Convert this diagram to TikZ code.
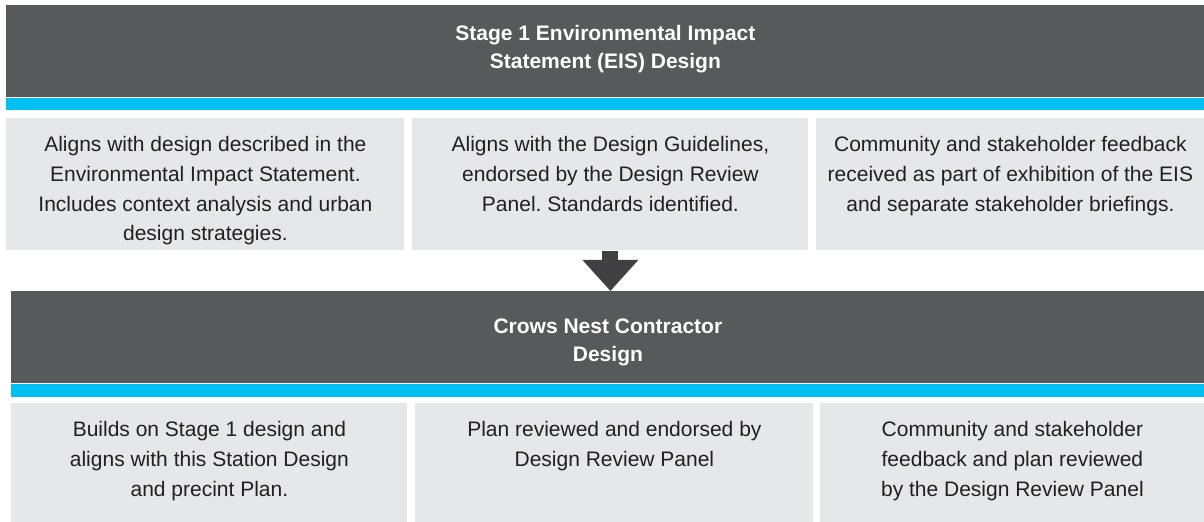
\documentclass[tikz,border=0pt]{standalone}
\usepackage{fontspec}
\setmainfont{Liberation Sans}
\usetikzlibrary{arrows.meta}
\definecolor{headgrey}{HTML}{58595B}
\definecolor{bandblue}{HTML}{00BFF3}
\definecolor{cellgrey}{HTML}{E6E7E8}
\definecolor{arrowgrey}{HTML}{414042}
\definecolor{textblack}{HTML}{231F20}
\frenchspacing
\begin{document}
\begin{tikzpicture}[
        x=0.5pt, y=-0.5pt, % one unit = one pixel of the page
        header/.style={fill=headgrey, anchor=north west, inner sep=0pt, minimum height=46pt},
        headtext/.style={text=white, font=\bfseries\fontsize{10.5}{14}\selectfont, align=center, inner sep=0pt},
        band/.style={fill=bandblue},
        cell/.style={fill=cellgrey, anchor=north west, inner sep=0pt},
        celltext/.style={anchor=north, align=center, inner sep=0pt, text=textblack, font=\fontsize{10.5}{14.85}\selectfont},
        flow/.style={draw=arrowgrey, line width=8pt, -{Triangle[width=27pt,length=15.5pt]}}
    ]
    \useasboundingbox (0,0) rectangle (1204,522);
    % stage 1 block
    \node[header, minimum width=599pt] (hd1) at (6,5) {};
    \node[headtext] (t1) at ([yshift=1pt]hd1.center) {Stage 1 Environmental Impact\\Statement (EIS) Design};
    \fill[band] (hd1.south west) rectangle ([yshift=-6pt]hd1.south east);
    \node[cell, minimum width=199pt, minimum height=66pt] (b1) at (6,118) {};
    \node[cell, minimum width=198pt, minimum height=66pt] (b2) at (412,118) {};
    \node[cell, minimum width=194pt, minimum height=66pt] (b3) at (816,118) {};
    \node[celltext] at ([yshift=-9pt]b1.north) {Aligns with design described in the\\Environmental Impact Statement.\\Includes context analysis and urban\\design strategies.};
    \node[celltext] at ([yshift=-9pt]b2.north) {Aligns with the Design Guidelines,\\endorsed by the Design Review\\Panel. Standards identified.};
    \node[celltext] at ([yshift=-9pt]b3.north) {Community and stakeholder feedback\\received as part of exhibition of the EIS\\and separate stakeholder briefings.};
    % contractor block
    \node[header, minimum width=596.5pt] (hd2) at (11,291) {};
    \node[headtext] (t2) at ([yshift=-2.5pt]hd2.center) {Crows Nest Contractor\\Design};
    \fill[band] (hd2.south west) rectangle ([yshift=-6.5pt]hd2.south east);
    \node[cell, minimum width=198pt, minimum height=59.5pt] (c1) at (11,403) {};
    \node[cell, minimum width=199pt, minimum height=59.5pt] (c2) at (415,403) {};
    \node[cell, minimum width=192pt, minimum height=59.5pt] (c3) at (820,403) {};
    \node[celltext] at ([yshift=-9pt]c1.north) {Builds on Stage 1 design and\\aligns with this Station Design\\and precint Plan.};
    \node[celltext] at ([yshift=-9pt]c2.north) {Plan reviewed and endorsed by\\Design Review Panel};
    \node[celltext] at ([yshift=-9pt]c3.north) {Community and stakeholder\\feedback and plan reviewed\\by the Design Review Panel};
    \draw[flow] (b2.south) -- (b2.south |- hd2.north);
\end{tikzpicture}
\end{document}
